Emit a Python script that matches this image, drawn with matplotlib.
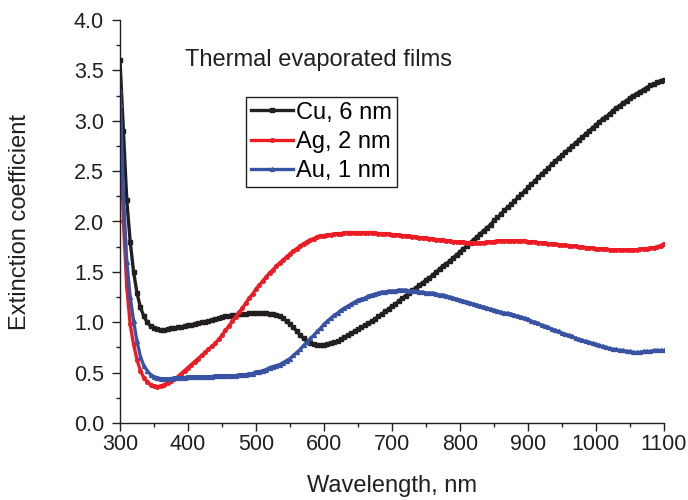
import matplotlib
matplotlib.use("Agg")
import matplotlib.pyplot as plt
from matplotlib.ticker import MultipleLocator, FormatStrFormatter
import numpy as np

plt.rcParams["font.family"] = ["Liberation Sans", "DejaVu Sans"]

# wavelength grid, nm (5 nm step)
wavelength = np.arange(300, 1101, 5)

cu_6nm = [
    3.60, 2.90, 2.21, 1.80, 1.50, 1.29, 1.15, 1.06, 1.00, 0.96,   # 300-345
    0.94, 0.93, 0.92, 0.92, 0.93, 0.94, 0.94, 0.95, 0.95, 0.96,   # 350-395
    0.97, 0.97, 0.98, 0.99, 1.00, 1.00, 1.01, 1.02, 1.03, 1.04,   # 400-445
    1.05, 1.06, 1.06, 1.07, 1.07, 1.08, 1.08, 1.08, 1.09, 1.09,   # 450-495
    1.09, 1.09, 1.09, 1.09, 1.08, 1.08, 1.07, 1.06, 1.04, 1.01,   # 500-545
    0.98, 0.95, 0.91, 0.87, 0.84, 0.81, 0.79, 0.78, 0.77, 0.77,   # 550-595
    0.77, 0.78, 0.79, 0.80, 0.81, 0.83, 0.85, 0.87, 0.89, 0.91,   # 600-645
    0.93, 0.95, 0.97, 0.99, 1.01, 1.03, 1.06, 1.08, 1.11, 1.13,   # 650-695
    1.16, 1.18, 1.21, 1.24, 1.26, 1.29, 1.32, 1.34, 1.37, 1.39,   # 700-745
    1.42, 1.44, 1.47, 1.50, 1.53, 1.56, 1.58, 1.61, 1.64, 1.67,   # 750-795
    1.70, 1.73, 1.76, 1.79, 1.82, 1.85, 1.88, 1.91, 1.94, 1.97,   # 800-845
    2.01, 2.04, 2.07, 2.11, 2.14, 2.17, 2.20, 2.24, 2.27, 2.30,   # 850-895
    2.34, 2.37, 2.40, 2.44, 2.47, 2.50, 2.53, 2.57, 2.60, 2.63,   # 900-945
    2.66, 2.69, 2.72, 2.75, 2.78, 2.81, 2.84, 2.87, 2.90, 2.93,   # 950-995
    2.96, 2.99, 3.02, 3.04, 3.07, 3.10, 3.13, 3.15, 3.18, 3.20,   # 1000-1045
    3.23, 3.25, 3.27, 3.29, 3.31, 3.33, 3.35, 3.36, 3.38, 3.39,   # 1050-1095
    3.40,                                                         # 1100
]

ag_2nm = [
    3.15, 2.00, 1.35, 0.98, 0.78, 0.63, 0.52, 0.45, 0.41, 0.38,   # 300-345
    0.37, 0.36, 0.37, 0.38, 0.40, 0.42, 0.44, 0.46, 0.49, 0.52,   # 350-395
    0.55, 0.58, 0.61, 0.64, 0.67, 0.70, 0.73, 0.76, 0.79, 0.83,   # 400-445
    0.87, 0.92, 0.96, 1.01, 1.05, 1.10, 1.14, 1.19, 1.24, 1.28,   # 450-495
    1.33, 1.37, 1.41, 1.45, 1.49, 1.52, 1.56, 1.59, 1.62, 1.65,   # 500-545
    1.68, 1.71, 1.73, 1.76, 1.78, 1.80, 1.82, 1.83, 1.85, 1.86,   # 550-595
    1.86, 1.87, 1.87, 1.88, 1.88, 1.88, 1.89, 1.89, 1.89, 1.89,   # 600-645
    1.89, 1.89, 1.89, 1.89, 1.89, 1.89, 1.88, 1.88, 1.88, 1.88,   # 650-695
    1.87, 1.87, 1.87, 1.86, 1.86, 1.86, 1.85, 1.85, 1.84, 1.84,   # 700-745
    1.84, 1.83, 1.83, 1.82, 1.82, 1.82, 1.81, 1.81, 1.80, 1.80,   # 750-795
    1.80, 1.80, 1.79, 1.79, 1.79, 1.79, 1.79, 1.79, 1.80, 1.80,   # 800-845
    1.80, 1.81, 1.81, 1.81, 1.81, 1.81, 1.81, 1.81, 1.81, 1.81,   # 850-895
    1.80, 1.80, 1.80, 1.79, 1.79, 1.79, 1.78, 1.78, 1.78, 1.77,   # 900-945
    1.77, 1.77, 1.76, 1.76, 1.76, 1.75, 1.75, 1.74, 1.74, 1.74,   # 950-995
    1.73, 1.73, 1.73, 1.73, 1.72, 1.72, 1.72, 1.72, 1.72, 1.72,   # 1000-1045
    1.72, 1.72, 1.72, 1.73, 1.73, 1.73, 1.74, 1.74, 1.75, 1.76,   # 1050-1095
    1.78,                                                         # 1100
]

au_1nm = [
    3.30, 2.25, 1.60, 1.25, 1.01, 0.81, 0.66, 0.57, 0.52, 0.48,   # 300-345
    0.46, 0.45, 0.44, 0.44, 0.44, 0.44, 0.45, 0.45, 0.45, 0.45,   # 350-395
    0.46, 0.46, 0.46, 0.46, 0.46, 0.46, 0.46, 0.46, 0.47, 0.47,   # 400-445
    0.47, 0.47, 0.47, 0.47, 0.47, 0.48, 0.48, 0.48, 0.49, 0.49,   # 450-495
    0.51, 0.51, 0.52, 0.53, 0.55, 0.56, 0.57, 0.58, 0.60, 0.62,   # 500-545
    0.64, 0.67, 0.70, 0.73, 0.77, 0.80, 0.84, 0.87, 0.91, 0.94,   # 550-595
    0.98, 1.01, 1.04, 1.07, 1.09, 1.12, 1.14, 1.16, 1.18, 1.20,   # 600-645
    1.22, 1.23, 1.24, 1.26, 1.27, 1.28, 1.29, 1.30, 1.30, 1.31,   # 650-695
    1.31, 1.31, 1.32, 1.32, 1.32, 1.31, 1.31, 1.31, 1.30, 1.30,   # 700-745
    1.29, 1.29, 1.29, 1.28, 1.27, 1.27, 1.26, 1.25, 1.24, 1.23,   # 750-795
    1.22, 1.21, 1.20, 1.19, 1.18, 1.17, 1.16, 1.15, 1.14, 1.13,   # 800-845
    1.12, 1.11, 1.10, 1.09, 1.09, 1.08, 1.07, 1.06, 1.05, 1.04,   # 850-895
    1.03, 1.01, 1.00, 0.99, 0.97, 0.96, 0.95, 0.93, 0.92, 0.91,   # 900-945
    0.89, 0.88, 0.87, 0.86, 0.84, 0.83, 0.82, 0.81, 0.80, 0.79,   # 950-995
    0.78, 0.77, 0.76, 0.75, 0.74, 0.73, 0.73, 0.72, 0.72, 0.71,   # 1000-1045
    0.71, 0.70, 0.70, 0.70, 0.71, 0.71, 0.71, 0.72, 0.72, 0.72,   # 1050-1095
    0.72,                                                         # 1100
]

series_labels = ["Cu, 6 nm", "Ag, 2 nm", "Au, 1 nm"]

FS = 17
TICK_FS = 15.5
INK = "#231f20"

fig = plt.figure(figsize=(6.88, 5.0), dpi=100)
ax = fig.add_axes([0.1744, 0.154, 0.7907, 0.806])

ax.plot(wavelength, cu_6nm, color=INK, lw=2.4, marker="s", ms=2.6,
        label=series_labels[0])
ax.plot(wavelength, ag_2nm, color="#ed1c24", lw=2.4, marker="o", ms=2.6,
        label=series_labels[1])
ax.plot(wavelength, au_1nm, color="#3953a4", lw=2.4, marker="^", ms=2.8,
        label=series_labels[2])

ax.set_xlim(300, 1100)
ax.set_ylim(0, 4.0)
ax.xaxis.set_major_locator(MultipleLocator(100))
ax.xaxis.set_minor_locator(MultipleLocator(50))
ax.yaxis.set_major_locator(MultipleLocator(0.5))
ax.yaxis.set_minor_locator(MultipleLocator(0.25))
ax.yaxis.set_major_formatter(FormatStrFormatter("%.1f"))

for side in ["top", "right"]:
    ax.spines[side].set_visible(False)
for side in ["left", "bottom"]:
    ax.spines[side].set_linewidth(1.0)
    ax.spines[side].set_color(INK)

ax.tick_params(which="both", direction="out", labelsize=TICK_FS, colors=INK,
               width=1.0)
ax.tick_params(which="major", length=5.5)
ax.tick_params(which="minor", length=3)
ax.tick_params(axis="x", which="major", pad=2.5)
ax.tick_params(axis="y", which="major", pad=6)

ax.set_xlabel("Wavelength, nm", fontsize=FS, color=INK)
ax.set_ylabel("Extinction coefficient", fontsize=FS, color=INK)
ax.xaxis.set_label_coords(0.5, -0.13)
ax.yaxis.set_label_coords(-0.163, 0.5)

ax.text(395, 3.6, "Thermal evaporated films", fontsize=FS, color=INK,
        va="center", ha="left")

leg = ax.legend(loc="upper left", bbox_to_anchor=(0.232, 0.809), borderaxespad=0,
                fontsize=FS, handlelength=1.8, handletextpad=0.12,
                labelspacing=0.3, borderpad=0.2, fancybox=False,
                framealpha=1, edgecolor=INK)
leg.get_frame().set_linewidth(1.0)

fig.savefig("out.png", dpi=100)
